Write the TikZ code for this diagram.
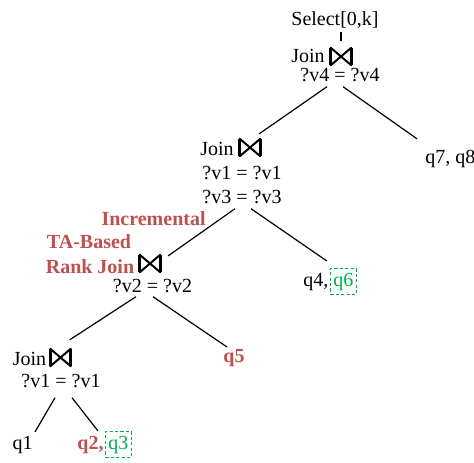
\documentclass[tikz,border=0pt]{standalone}
\usepackage{fontspec}
\setmainfont{Liberation Serif}
\usetikzlibrary{calc,positioning}

\definecolor{rankred}{HTML}{C0504D}
\definecolor{cachegreen}{HTML}{00B050}

\tikzset{
  txt/.style={inner sep=0pt, anchor=base},
  rank/.style={txt, text=rankred, font=\bfseries},
  cached/.style={txt, text=cachegreen, draw=cachegreen, dash pattern=on 1.6pt off 1.1pt,
    line width=0.5pt, inner xsep=1.5pt, inner ysep=2pt},
  tie/.style={minimum width=9.75pt, minimum height=8.25pt, inner sep=0pt},
  tieline/.style={line width=1pt, line join=round},
  edge/.style={line width=0.6pt}
}

% simbol join (dasi kupu-kupu)
\newcommand{\jointie}[2]{%
  \node[tie] (#1) at (#2) {};
  \draw[tieline] (#1.north west) -- (#1.south west) -- (#1.north east) -- (#1.south east) -- cycle;
  \draw[tieline, line width=1.5pt] (#1.north west) -- (#1.south west) (#1.north east) -- (#1.south east);
}

\begin{document}
\begin{tikzpicture}[x=0.5pt, y=-0.5pt]
\useasboundingbox (0,0) rectangle (474,462);

% Seleksi di puncak pohon
\node[txt] (sel) at (335,25) {Select[0,k]};

% Join paling atas
\jointie{tA}{341,56.5}
\node[txt, anchor=base east] (jA) at (325,62) {Join};
\node[txt] (cA) at (340,81) {?v4 = ?v4};

% Join kedua
\jointie{tB}{250,147.5}
\node[txt, anchor=base east] (jB) at (234,155) {Join};
\node[txt] (cB1) at (242,179) {?v1 = ?v1};
\node[txt] (cB2) at (242,203) {?v3 = ?v3};

% Rank join
\jointie{tC}{150,263.5}
\node[rank, anchor=base east] (incr) at (206,225) {Incremental};
\node[rank] (ta) at (89,248) {TA-Based};
\node[rank] (rk) at (90,273) {Rank Join};
\node[txt] (cC) at (152.5,292) {?v2 = ?v2};

% Join paling bawah
\jointie{tD}{60.5,357.5}
\node[txt, anchor=base east] (jD) at (46.5,365) {Join};
\node[txt] (cD) at (61,387) {?v1 = ?v1};

% Daun-daun
\node[txt, anchor=base west] (q78) at (425,163) {q7, q8};
\node[txt, anchor=base west] (q4) at (303,286) {q4,};
\node[cached, base right=0.5pt of q4] (q6) {q6};
\node[rank] (q5) at (234,362) {q5};
\node[txt] (q1) at (22.5,449) {q1};
\node[rank, anchor=base west] (q2) at (77,449) {q2,};
\node[cached, base right=0.5pt of q2] (q3) {q3};

% Garis antar simpul
\draw[edge, shorten <=2pt, shorten >=3.5pt] (sel.south -| tA.north) -- (tA.north);
\draw[edge] ($(cA.south)+(-13,5)$) -- ($(tB.north east)+(-1,-5)$);
\draw[edge] ($(cA.south)+(3,5)$) -- ($(q78.north west)+(-8,-10.5)$);
\draw[edge] ($(cB2.south)+(-7,5)$) -- ($(tC.north east)+(8,1)$);
\draw[edge] ($(cB2.south)+(9,5)$) -- ($(q4.north east)+(-2,-11.5)$);
\draw[edge] ($(cC.south)+(-16.5,4)$) -- ($(tD.north east)+(-1,-9)$);
\draw[edge] ($(cC.south)+(0.5,4)$) -- ($(q5.north)+(-7,-1.5)$);
\draw[edge] ($(cD.south)+(-6,10)$) -- ($(q1.north)+(12.5,-3.5)$);
\draw[edge] ($(cD.south)+(11,10)$) -- ($(q2.north east)+(-6,-4.5)$);
\end{tikzpicture}
\end{document}
